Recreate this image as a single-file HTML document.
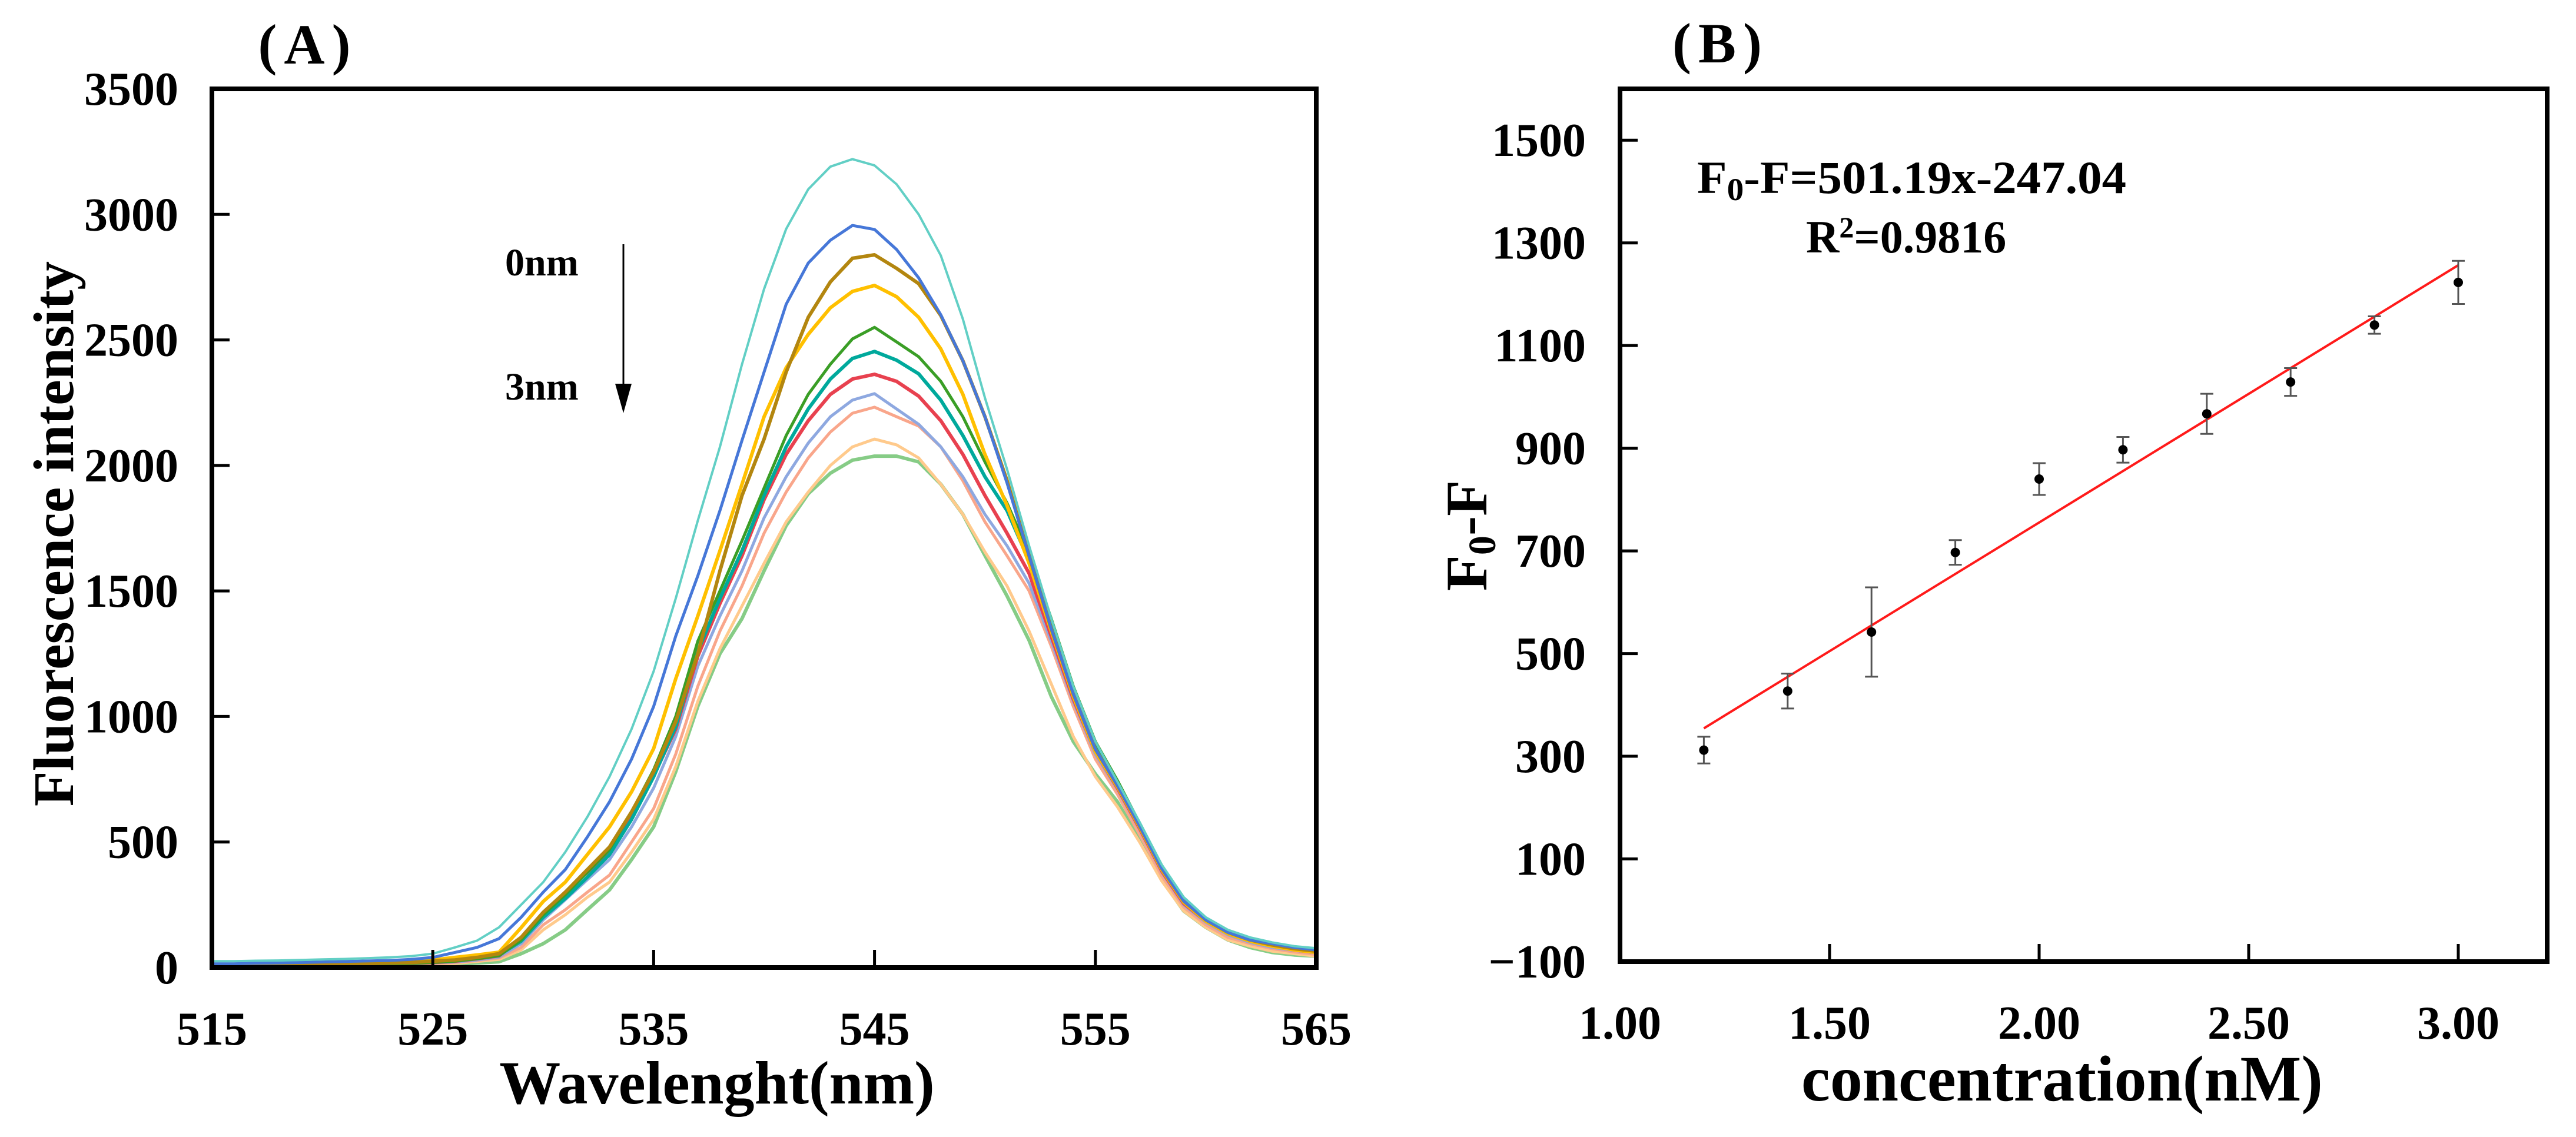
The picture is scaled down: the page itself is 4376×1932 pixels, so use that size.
<!DOCTYPE html>
<html><head><meta charset="utf-8"><style>
html,body{margin:0;padding:0;background:#fff;}
svg{display:block;}
text{font-family:"Liberation Serif","Times New Roman",serif;font-weight:bold;fill:#000;}
</style></head><body>
<svg id="fig" width="4376" height="1932" viewBox="0 0 4376 1932" xmlns="http://www.w3.org/2000/svg">
<g id="panelA"></g>
<g id="panelB"></g>
</svg>
<script>
// ---------- Panel A data ----------
const wavelengths = [515,516,517,518,519,520,521,522,523,524,525,526,527,528,529,530,531,532,533,534,535,536,537,538,539,540,541,542,543,544,545,546,547,548,549,550,551,552,553,554,555,556,557,558,559,560,561,562,563,564,565];
const seriesTurquoise = [25,25,27,28,30,32,34,37,40,45,55,80,107,160,250,340,460,600,760,950,1180,1470,1780,2074,2403,2703,2942,3100,3190,3220,3195,3120,3000,2836,2583,2269,1985,1680,1390,1120,900,740,580,410,280,200,150,120,100,85,77];
const seriesBlue = [15,15,17,18,20,22,24,26,28,32,40,60,80,115,200,300,390,520,660,830,1040,1320,1560,1820,2100,2372,2642,2806,2897,2956,2940,2860,2747,2600,2417,2194,1930,1640,1350,1090,870,725,565,395,265,190,140,110,95,80,70];
const seriesBrown = [10,10,11,12,13,14,15,16,18,20,25,30,40,55,120,220,300,390,480,620,780,980,1250,1580,1880,2105,2372,2590,2731,2825,2839,2785,2724,2597,2417,2194,1940,1640,1350,1090,870,725,565,395,265,190,140,110,90,75,65];
const seriesYellow = [12,12,13,14,15,16,17,18,20,22,30,40,50,61,159,263,340,450,560,700,872,1150,1400,1660,1925,2194,2389,2522,2628,2693,2717,2672,2590,2464,2283,2044,1840,1610,1340,1080,860,720,560,390,260,185,135,105,85,70,60];
const seriesGreen = [8,8,9,10,10,11,12,13,14,16,20,25,35,47,110,210,290,380,470,620,788,1000,1300,1500,1700,1910,2119,2283,2403,2504,2550,2492,2433,2335,2194,2014,1850,1650,1390,1120,900,745,575,400,265,190,140,110,90,75,60];
const seriesTeal = [10,10,11,12,12,13,14,15,16,18,22,28,38,50,105,200,275,360,450,590,760,960,1260,1470,1660,1880,2074,2225,2344,2426,2454,2419,2365,2260,2119,1955,1820,1620,1360,1100,880,735,570,400,270,195,145,115,95,82,72];
const seriesRed = [8,8,9,10,10,11,12,13,14,16,20,25,35,47,115,218,300,380,464,600,764,950,1240,1450,1640,1864,2044,2178,2283,2344,2363,2335,2276,2178,2044,1880,1730,1570,1320,1070,860,715,555,385,255,185,135,105,85,70,60];
const seriesPeriwinkle = [8,8,8,9,9,10,10,11,12,14,18,22,30,42,95,190,270,350,430,560,715,920,1200,1400,1580,1791,1955,2089,2194,2260,2286,2225,2164,2074,1955,1805,1680,1530,1300,1060,850,710,550,380,250,180,130,100,80,68,58];
const seriesSalmon = [7,7,7,8,8,9,9,10,11,12,15,20,28,38,80,170,230,300,368,500,633,850,1120,1340,1520,1730,1894,2030,2133,2208,2232,2194,2157,2074,1939,1775,1640,1500,1280,1040,830,690,530,365,240,170,120,95,75,62,52];
const seriesOrange = [6,6,6,7,7,8,8,9,10,11,12,16,24,32,70,150,210,280,340,460,590,800,1060,1270,1440,1610,1775,1894,2000,2074,2105,2082,2030,1925,1805,1655,1520,1340,1130,920,760,640,500,345,225,160,110,85,65,55,45];
const seriesLightGreen = [5,5,5,6,6,7,7,8,8,9,10,12,18,23,55,95,150,230,309,430,560,780,1040,1250,1390,1580,1760,1887,1969,2021,2037,2037,2014,1925,1805,1641,1480,1303,1080,900,771,660,510,350,225,160,110,80,60,50,45];
const yTicksA = [0,500,1000,1500,2000,2500,3000,3500];
const xTicksA = [515,525,535,545,555,565];

// ---------- Panel B data ----------
const concentrations = [1.2,1.4,1.6,1.8,2.0,2.2,2.4,2.6,2.8,3.0];
const quenchValues = [312,427,542,697,840,897,967,1029,1140,1223];
const errorValues = [26,34,87,24,31,25,39,27,17,42];
const fitSlope = 501.19;
const fitIntercept = -247.04;
const yTicksB = [-100,100,300,500,700,900,1100,1300,1500];
const xTicksB = [1.00,1.50,2.00,2.50,3.00];

const NS = "http://www.w3.org/2000/svg";
function mk(tag, attrs, parent){ const e=document.createElementNS(NS,tag); for(const k in attrs) e.setAttribute(k,attrs[k]); parent.appendChild(e); return e; }

// ===== Panel A =====
const A = document.getElementById('panelA');
const aL=360, aR=2236, aT=151, aB=1644;
const axA = v => aL + (v-515)/(565-515)*(aR-aL);
const ayA = v => aB - v/3500*(aB-aT);

const seriesList = [
 [seriesTurquoise,'#62cfc5',4,'series-turquoise'],
 [seriesBlue,'#4677d8',5,'series-blue'],
 [seriesBrown,'#b3860f',6,'series-brown'],
 [seriesYellow,'#ffc000',6,'series-yellow'],
 [seriesGreen,'#3a9e26',5,'series-green'],
 [seriesTeal,'#00a99c',6,'series-teal'],
 [seriesRed,'#e8414f',6,'series-red'],
 [seriesPeriwinkle,'#8ea8e0',5,'series-periwinkle'],
 [seriesSalmon,'#f9a68b',5,'series-salmon'],
 [seriesOrange,'#ffca8c',5,'series-light-orange'],
 [seriesLightGreen,'#86cc86',6,'series-light-green']
];
for(let s=seriesList.length-1;s>=0;s--){
  const [vals,col,w,name]=seriesList[s];
  const pts = vals.map((v,i)=>axA(wavelengths[i]).toFixed(1)+','+ayA(v).toFixed(1)).join(' ');
  const pl = mk('polyline',{points:pts,fill:'none',stroke:col,'stroke-width':w,'stroke-linejoin':'round'},A);
  
  
}
const frA = mk('rect',{x:aL,y:aT,width:aR-aL,height:aB-aT,fill:'none',stroke:'#000','stroke-width':8},A);


yTicksA.forEach(t=>{
  const y=ayA(t);
  if(t>0 && t<3500){ const tk=mk('line',{x1:aL,y1:y,x2:aL+30,y2:y,stroke:'#000','stroke-width':5},A);
    
     }
  const tx=mk('text',{x:303,y:y+27,'text-anchor':'end','font-size':80},A); tx.textContent=t;
  
  
});
xTicksA.forEach(t=>{
  const x=axA(t);
  if(t>515 && t<565){ const tk=mk('line',{x1:x,y1:aB,x2:x,y2:aB-30,stroke:'#000','stroke-width':5},A);
    
     }
  const tx=mk('text',{x:x,y:1775,'text-anchor':'middle','font-size':80},A); tx.textContent=t;
  
  
});
let t;
t=mk('text',{x:1218,y:1875,'text-anchor':'middle','font-size':104},A); t.textContent='Wavelenght(nm)';


t=mk('text',{x:0,y:0,'text-anchor':'middle','font-size':98,transform:'translate(124,907) rotate(-90)'},A); t.textContent='Fluorescence intensity';


t=mk('text',{x:523,y:108,'text-anchor':'middle','font-size':96,'letter-spacing':12},A); t.textContent='(A)';


t=mk('text',{x:858,y:468,'font-size':66},A); t.textContent='0nm';


t=mk('text',{x:858,y:679,'font-size':66},A); t.textContent='3nm';


const arL=mk('line',{x1:1059,y1:415,x2:1059,y2:660,stroke:'#000','stroke-width':3},A);


const arH=mk('polygon',{points:'1045,652 1073,652 1059,702',fill:'#000'},A);



// ===== Panel B =====
const B = document.getElementById('panelB');
const bL=2752, bR=4327, bT=151, bB=1634;
const xMinB=1.0, xMaxB=1.0+(bR-bL)/712, yMinB=-100, yMaxB=1600;
const axB = v => bL + (v-xMinB)/(xMaxB-xMinB)*(bR-bL);
const ayB = v => bB - (v-yMinB)/(yMaxB-yMinB)*(bB-bT);

const fitX0=concentrations[0], fitX1=concentrations[concentrations.length-1];
const fit=mk('line',{x1:axB(fitX0),y1:ayB(fitSlope*fitX0+fitIntercept),x2:axB(fitX1),y2:ayB(fitSlope*fitX1+fitIntercept),stroke:'#ff1a1a','stroke-width':4},B);


concentrations.forEach((c,i)=>{
  const x=axB(c), y=ayB(quenchValues[i]), y1=ayB(quenchValues[i]+errorValues[i]), y2=ayB(quenchValues[i]-errorValues[i]);
  const g=mk('g',{},B);
  
  
  mk('line',{x1:x,y1:y1,x2:x,y2:y2,stroke:'#555','stroke-width':3},g);
  mk('line',{x1:x-11,y1:y1,x2:x+11,y2:y1,stroke:'#555','stroke-width':3},g);
  mk('line',{x1:x-11,y1:y2,x2:x+11,y2:y2,stroke:'#555','stroke-width':3},g);
  mk('circle',{cx:x,cy:y,r:8,fill:'#000'},g);
});
const frB = mk('rect',{x:bL,y:bT,width:bR-bL,height:bB-bT,fill:'none',stroke:'#000','stroke-width':8},B);


yTicksB.forEach(v=>{
  const y=ayB(v);
  if(v>-100){ const tk=mk('line',{x1:bL,y1:y,x2:bL+30,y2:y,stroke:'#000','stroke-width':5},B);
    
     }
  const tx=mk('text',{x:2694,y:y+27,'text-anchor':'end','font-size':80},B); tx.textContent=(v<0?'\u2212'+Math.abs(v):v);
  
  
});
xTicksB.forEach(v=>{
  const x=axB(v);
  if(v>1.0){ const tk=mk('line',{x1:x,y1:bB,x2:x,y2:bB-30,stroke:'#000','stroke-width':5},B);
    
     }
  const tx=mk('text',{x:x,y:1765,'text-anchor':'middle','font-size':80},B); tx.textContent=v.toFixed(2);
  
  
});
t=mk('text',{x:3503,y:1870,'text-anchor':'middle','font-size':110},B); t.textContent='concentration(nM)';


t=mk('text',{x:0,y:0,'text-anchor':'middle','font-size':100,transform:'translate(2525,910) rotate(-90)'},B);
t.innerHTML='F<tspan font-size="66" dy="15">0</tspan><tspan dy="-15">-F</tspan>';


t=mk('text',{x:2923,y:106,'text-anchor':'middle','font-size':96,'letter-spacing':12},B); t.textContent='(B)';


t=mk('text',{x:2883,y:328,'font-size':78,textLength:729,lengthAdjust:'spacingAndGlyphs'},B);
t.innerHTML='F<tspan font-size="54" dy="12">0</tspan><tspan dy="-12">-F=501.19x-247.04</tspan>';


t=mk('text',{x:3068,y:429,'font-size':78},B);
t.innerHTML='R<tspan font-size="50" dy="-26">2</tspan><tspan dy="26">=0.9816</tspan>';


</script>
</body></html>
